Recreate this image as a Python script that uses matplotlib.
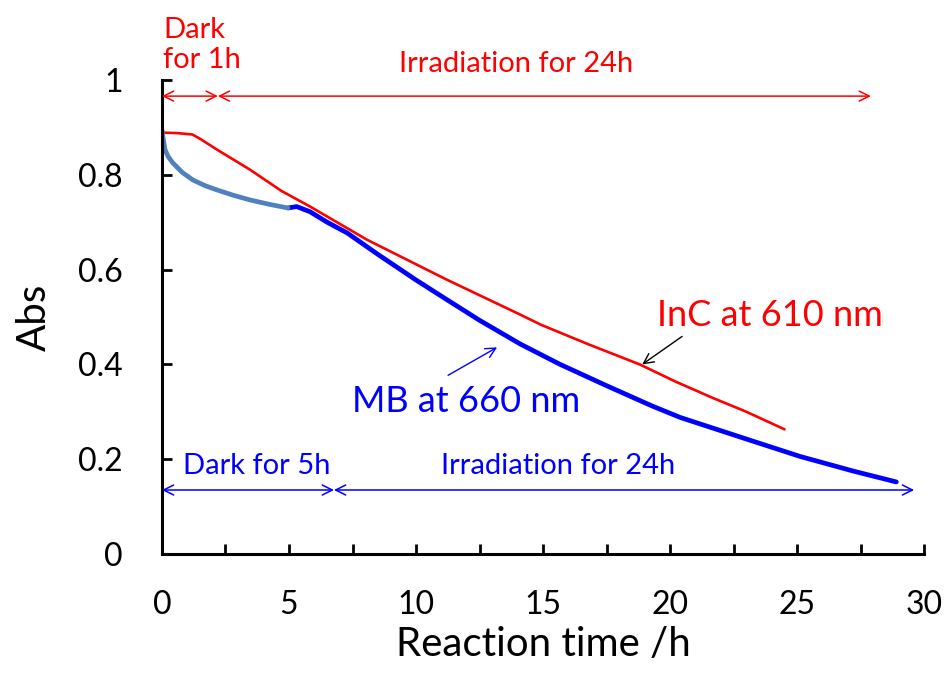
import matplotlib
matplotlib.use("Agg")
import matplotlib.pyplot as plt

plt.rcParams['font.family'] = ['Lato', 'DejaVu Sans']

# InC absorbance at 610 nm (dark 1 h, then irradiation)
inc_t = [0, 0.6, 1.2, 1.5, 2.17, 3.46, 4.7, 5.83, 8.07, 11.2, 14.1, 14.9,
         16.8, 18.8, 20.2, 21.6, 23.0, 24.5]
inc_abs = [0.889, 0.888, 0.885, 0.876, 0.853, 0.811, 0.766, 0.733, 0.663,
           0.579, 0.505, 0.484, 0.442, 0.400, 0.364, 0.331, 0.300, 0.263]

# MB absorbance at 660 nm, dark period (0-5 h)
mb_dark_t = [0, 0.04, 0.12, 0.25, 0.43, 0.8, 1.22, 1.7, 2.17, 2.8, 3.46,
             4.2, 4.96]
mb_dark_abs = [0.895, 0.88, 0.853, 0.838, 0.825, 0.805, 0.789, 0.777, 0.768,
               0.757, 0.747, 0.738, 0.730]

# MB absorbance at 660 nm, irradiation period
mb_irr_t = [4.96, 5.3, 5.83, 6.5, 7.3, 8.5, 10.0, 11.2, 12.5, 14.1, 15.67,
            17.5, 19.3, 20.4, 22.8, 25.1, 27.2, 28.9]
mb_irr_abs = [0.730, 0.733, 0.722, 0.700, 0.677, 0.632, 0.578, 0.537, 0.493,
              0.443, 0.400, 0.355, 0.312, 0.288, 0.246, 0.206, 0.175, 0.152]

x_ticks = [0, 5, 10, 15, 20, 25, 30]
x_minor = [2.5, 7.5, 12.5, 17.5, 22.5, 27.5]
y_ticks = [0, 0.2, 0.4, 0.6, 0.8, 1.0]
y_ticklabels = ['0', '0.2', '0.4', '0.6', '0.8', '1']

RED = '#FF0000'
BLUE = '#0000FF'
STEEL = '#4F81BD'

fig = plt.figure(figsize=(9.47, 6.82), dpi=100)
ax = fig.add_axes([0.171, 0.1877, 0.805, 0.695])

ax.plot(inc_t, inc_abs, color=RED, lw=1.9, solid_capstyle='round',
        solid_joinstyle='round')
ax.plot(mb_irr_t, mb_irr_abs, color=BLUE, lw=3.4, solid_capstyle='round',
        solid_joinstyle='round')
ax.plot(mb_dark_t, mb_dark_abs, color=STEEL, lw=3.4, solid_capstyle='round',
        solid_joinstyle='round')

ax.set_xlim(0, 30)
ax.set_ylim(0, 1)
ax.set_xticks(x_ticks)
ax.set_xticks(x_minor, minor=True)
ax.set_yticks(y_ticks)
ax.set_yticklabels(y_ticklabels)

for s in ['top', 'right']:
    ax.spines[s].set_visible(False)
for s in ['left', 'bottom']:
    ax.spines[s].set_linewidth(2.2)

ax.tick_params(axis='both', which='both', direction='in', length=7, width=2)
ax.tick_params(axis='x', which='major', labelsize=23, pad=26)
ax.tick_params(axis='y', which='major', labelsize=23, pad=28)

ax.set_xlabel('Reaction time /h', fontsize=29, labelpad=4)
ax.set_ylabel('Abs', fontsize=29, labelpad=18)

# Period arrows
def span(x0, x1, y, color):
    ax.annotate('', xy=(x1, y), xytext=(x0, y),
                arrowprops=dict(arrowstyle='<->', color=color, lw=1.1,
                                mutation_scale=18, shrinkA=0, shrinkB=0),
                annotation_clip=False)

span(0, 2.2, 0.966, RED)
span(2.2, 27.9, 0.966, RED)
span(0, 6.77, 0.135, BLUE)
span(6.77, 29.6, 0.135, BLUE)

ax.text(0.04, 1.088, 'Dark', color=RED, fontsize=21, va='baseline',
        clip_on=False)
ax.text(0.04, 1.025, 'for 1h', color=RED, fontsize=21, va='baseline',
        clip_on=False)
ax.text(9.33, 1.017, 'Irradiation for 24h', color=RED, fontsize=21,
        va='baseline', clip_on=False)
ax.text(0.83, 0.168, 'Dark for 5h', color=BLUE, fontsize=21, va='baseline')
ax.text(11.0, 0.168, 'Irradiation for 24h', color=BLUE, fontsize=21,
        va='baseline')

# Series labels with pointers
ax.text(19.5, 0.48, 'InC at 610 nm', color=RED, fontsize=26, va='baseline')
ax.annotate('', xy=(18.9, 0.40), xytext=(20.47, 0.459),
            arrowprops=dict(arrowstyle='->', color='black', lw=1.0,
                            mutation_scale=18, shrinkA=0, shrinkB=0))
ax.text(7.48, 0.299, 'MB at 660 nm', color=BLUE, fontsize=26, va='baseline')
ax.annotate('', xy=(13.19, 0.436), xytext=(11.26, 0.377),
            arrowprops=dict(arrowstyle='->', color=BLUE, lw=1.0,
                            mutation_scale=18, shrinkA=0, shrinkB=0))

fig.savefig('out.png', dpi=100)
